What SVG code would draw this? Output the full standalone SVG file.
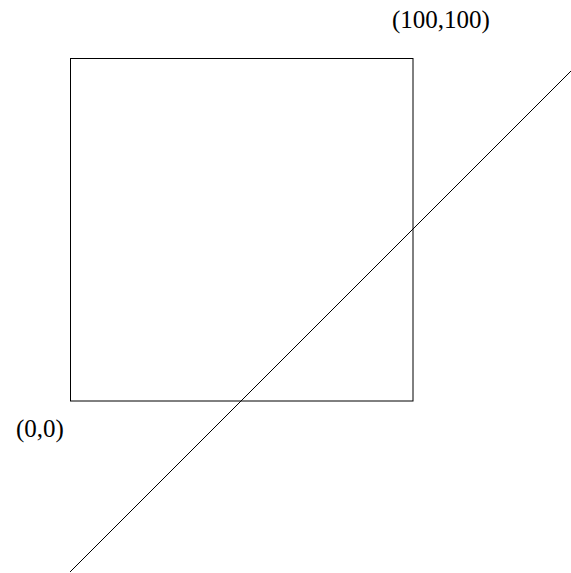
<svg xmlns="http://www.w3.org/2000/svg" width="571" height="573" viewBox="0 0 571 573">
<style>
.l{fill:none;stroke:#000;stroke-width:1}
.t{font-family:"Liberation Serif","Times New Roman",serif;font-size:25px;fill:#000}
</style>
<rect width="571" height="573" fill="#fff"/>
<g id="square"><rect class="l" x="70.5" y="58.5" width="342.5" height="342.5"/></g>
<g id="connectors"><line class="l" x1="70" y1="572" x2="571" y2="71"/></g>
<g id="label-origin"><text class="t" x="16" y="437">(0,0)</text></g>
<g id="label-corner"><text class="t" x="392" y="28">(100,100)</text></g>
</svg>
